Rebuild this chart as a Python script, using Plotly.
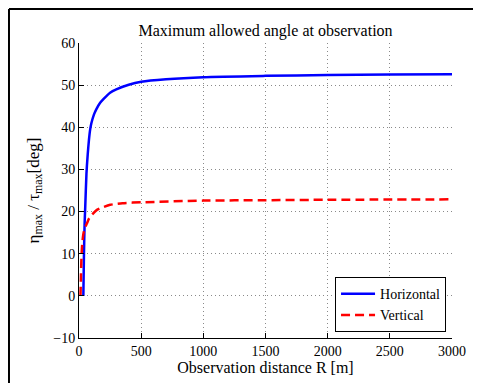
import plotly.graph_objects as go

# Horizontal (eta_max)
r_h = [35, 40, 45, 50, 60, 70, 80, 90, 100, 120, 140, 170, 200, 250, 300, 400, 500, 700, 1000, 1500, 2000, 2500, 3000]
eta_h = [0, 10, 17, 21, 29, 33.5, 37, 39.5, 41, 43, 44.3, 45.8, 46.8, 48.2, 49, 50.1, 50.8, 51.4, 51.9, 52.2, 52.4, 52.5, 52.6]

# Vertical (tau_max)
r_v = [12, 16, 21, 28, 37, 50, 64, 80, 103, 144, 200, 251, 350, 500, 1000, 1500, 2000, 3000]
tau_v = [0, 5, 10, 13, 15, 16.3, 17.2, 18.3, 19.2, 20.4, 21.1, 21.6, 22.0, 22.2, 22.6, 22.7, 22.8, 22.9]

x_ticks = [0, 500, 1000, 1500, 2000, 2500, 3000]
y_ticks = [-10, 0, 10, 20, 30, 40, 50, 60]

FONT = "Liberation Serif"

fig = go.Figure()
fig.add_trace(go.Scatter(x=r_h, y=eta_h, mode="lines", name="Horizontal",
                         line=dict(color="#0000ff", width=2.5, shape="spline", smoothing=0.6)))
fig.add_trace(go.Scatter(x=r_v, y=tau_v, mode="lines", name="Vertical",
                         line=dict(color="#ff0000", width=2.5, dash="9px,5px", shape="spline", smoothing=0.6)))

axis_common = dict(
    showline=True, linecolor="black", linewidth=1,
    ticks="inside", ticklen=5, tickcolor="black", tickwidth=1,
    showgrid=True, gridcolor="#8a8a8a", gridwidth=1, griddash="1px,3px",
    zeroline=False, mirror=False,
    tickfont=dict(family=FONT, size=14, color="black"),
)

# page body has an 8px margin: shift the figure up/left by 8px
fig.update_layout(
    width=481, height=383,
    margin=dict(l=71, r=37, t=35, b=53),
    paper_bgcolor="white", plot_bgcolor="white",
    font=dict(family=FONT, color="black"),
    title=dict(text="Maximum allowed angle at observation", x=0.5, xref="paper", xanchor="center",
               y=1, yref="paper", yanchor="bottom", pad=dict(b=7),
               font=dict(family=FONT, size=16, color="black")),
    xaxis=dict(range=[0, 3000], tickvals=x_ticks,
               title=dict(text="Observation distance R [m]", standoff=0,
                          font=dict(family=FONT, size=16, color="black")),
               **axis_common),
    yaxis=dict(range=[-10, 60], tickvals=y_ticks,
               title=dict(text="η<sub>max</sub> / τ<sub>max</sub>[deg]", standoff=9,
                          font=dict(family=FONT, size=17, color="black")),
               **axis_common),
    legend=dict(x=0.984, y=0.02, xanchor="right", yanchor="bottom",
                bgcolor="white", bordercolor="black", borderwidth=1,
                font=dict(family=FONT, size=14, color="black"),
                itemwidth=34, tracegroupgap=0),
    showlegend=True,
    shapes=[
        dict(type="line", xref="paper", yref="paper", x0=-0.1877, x1=1.2, y0=1.1153, y1=1.1153,
             line=dict(color="black", width=2)),
        dict(type="line", xref="paper", yref="paper", x0=-0.1877, x1=-0.1877, y0=-0.2, y1=1.1153,
             line=dict(color="black", width=2)),
    ],
)

fig.write_html("out.html")
